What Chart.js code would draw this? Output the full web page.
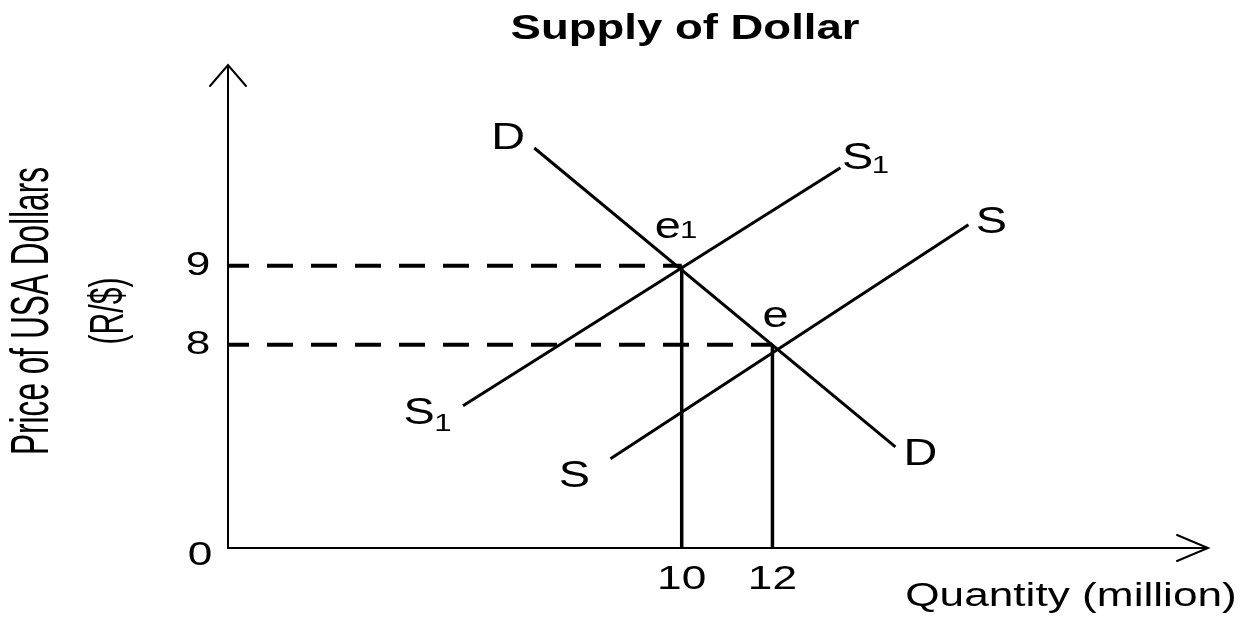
<!DOCTYPE html>
<html>
<head>
<meta charset="utf-8">
<script src="https://cdn.jsdelivr.net/npm/chart.js@4.4.0/dist/chart.umd.min.js"></script>
<style>
  body { margin: 0; background: #fff; }
  #wrap { width: 1245px; height: 617px; }
</style>
</head>
<body>
<div id="wrap"><canvas id="fxChart" width="1245" height="617"></canvas></div>
<script>
// axis ticks (quantity in million, price in R/$)
const qTicks = [10, 12];
const pTicks = [9, 8];
// y axis is broken: the origin stands for 0
const pOrigin = 5.43;
const pTop = 11.54;
const qMax = 21.6;

// curves: end points (quantity, price)
const demandQ = [6.75, 14.71];
const demandP = [10.49, 6.71];
const supply1Q = [5.18, 13.5];
const supply1P = [7.23, 10.24];
const supplyQ = [8.43, 16.32];
const supplyP = [6.56, 9.52];

// equilibria e1 and e
const eqQ = [10, 12];
const eqP = [9, 8];
const eqNames = ['e', 'e'];
const eqSubs = ['1', ''];

function pts(xs, ys) {
    return xs.map((x, i) => ({ x: x, y: ys[i] }));
}

const FONT = "'Liberation Sans', Arial, sans-serif";
const SX = 1.3; // the picture's lettering is drawn wide

const datasets = [
    { data: pts(demandQ, demandP), borderWidth: 3 },
    { data: pts(supply1Q, supply1P), borderWidth: 3 },
    { data: pts(supplyQ, supplyP), borderWidth: 3 }
];
// dashed guides to the price axis and solid drops to the quantity axis
eqQ.forEach((q, i) => {
    datasets.push({ data: [{ x: 0, y: eqP[i] }, { x: q, y: eqP[i] }], borderWidth: 4, borderDash: [26, 18], borderDashOffset: 5 });
    datasets.push({ data: [{ x: q, y: eqP[i] }, { x: q, y: pOrigin }], borderWidth: 3.5 });
});
datasets.forEach(d => {
    d.showLine = true;
    d.borderColor = '#000';
    d.pointRadius = 0;
    d.fill = false;
});

// centred text, stretched sideways like the picture
function text(ctx, s, x, y, size, bold) {
    ctx.save();
    ctx.translate(x, y);
    ctx.scale(SX, 1);
    ctx.font = (bold ? 'bold ' : '') + size + 'px ' + FONT;
    ctx.fillText(s, 0, 0);
    ctx.restore();
}

// curve label with optional subscript
function label(ctx, s, sub, x, y, dx, dy) {
    text(ctx, s, x, y, 36);
    if (sub) text(ctx, sub, x + dx, y + dy, 24);
}

const decor = {
    id: 'decor',
    afterDraw(chart) {
        const ctx = chart.ctx;
        const xs = chart.scales.x, ys = chart.scales.y;
        const X = v => xs.getPixelForValue(v);
        const Y = v => ys.getPixelForValue(v);
        const ox = X(0), oy = Y(pOrigin), tx = X(qMax), ty = Y(pTop);
        ctx.save();
        ctx.strokeStyle = '#000';
        ctx.fillStyle = '#000';
        ctx.lineWidth = 2;
        ctx.lineCap = 'round';
        // axes with open arrow heads
        ctx.beginPath();
        ctx.moveTo(ox, ty); ctx.lineTo(ox, oy); ctx.lineTo(tx, oy);
        ctx.moveTo(ox - 18, ty + 21); ctx.lineTo(ox, ty); ctx.lineTo(ox + 18, ty + 21);
        ctx.moveTo(tx - 31, oy - 13); ctx.lineTo(tx, oy); ctx.lineTo(tx - 31, oy + 13);
        ctx.stroke();

        ctx.textAlign = 'center';
        ctx.textBaseline = 'middle';
        text(ctx, 'Supply of Dollar', 685, 29, 35, true);

        // tick labels
        pTicks.forEach(p => text(ctx, String(p), ox - 30, Y(p), 34));
        text(ctx, '0', ox - 28, oy + 8, 34);
        qTicks.forEach(q => text(ctx, String(q), X(q), oy + 32, 34));
        text(ctx, 'Quantity (million)', 1071, 597, 34);

        // curve labels
        label(ctx, 'D', '', X(demandQ[0]) - 26, Y(demandP[0]) - 9);
        label(ctx, 'D', '', X(demandQ[1]) + 25, Y(demandP[1]) + 8);
        label(ctx, 'S', '1', X(supply1Q[1]) + 17, Y(supply1P[1]) - 9, 23, 8);
        label(ctx, 'S', '1', X(supply1Q[0]) - 44, Y(supply1P[0]) + 8, 24, 11);
        label(ctx, 'S', '', X(supplyQ[1]) + 23, Y(supplyP[1]) - 2);
        label(ctx, 'S', '', X(supplyQ[0]) - 36, Y(supplyP[0]) + 18);
        eqQ.forEach((q, i) => {
            if (eqSubs[i]) label(ctx, eqNames[i], eqSubs[i], X(q) - 14, Y(eqP[i]) - 38, 21, 4);
            else label(ctx, eqNames[i], '', X(q) + 3, Y(eqP[i]) - 28);
        });

        // y axis title, rotated; length along the axis, thickness across it
        const yTitle = (s, cx, cy, len, cap) => {
            ctx.save();
            ctx.translate(cx, cy);
            ctx.rotate(-Math.PI / 2);
            ctx.font = '40px ' + FONT;
            const m = ctx.measureText(s).width;
            ctx.scale(len / m, cap / (0.716 * 40));
            ctx.fillText(s, 0, 0);
            ctx.restore();
        };
        yTitle('Price of USA Dollars', 33, 311, 288, 38);
        yTitle('(R/$)', 110, 311, 67, 34);
        ctx.restore();
    }
};

new Chart(document.getElementById('fxChart').getContext('2d'), {
    type: 'scatter',
    data: { datasets: datasets },
    options: {
        responsive: false,
        animation: false,
        layout: { padding: { left: 228, right: 37, top: 65, bottom: 69 } },
        plugins: { legend: { display: false }, tooltip: { enabled: false } },
        scales: {
            x: { type: 'linear', min: 0, max: qMax, display: false },
            y: { type: 'linear', min: pOrigin, max: pTop, display: false }
        }
    },
    plugins: [decor]
});
</script>
</body>
</html>
